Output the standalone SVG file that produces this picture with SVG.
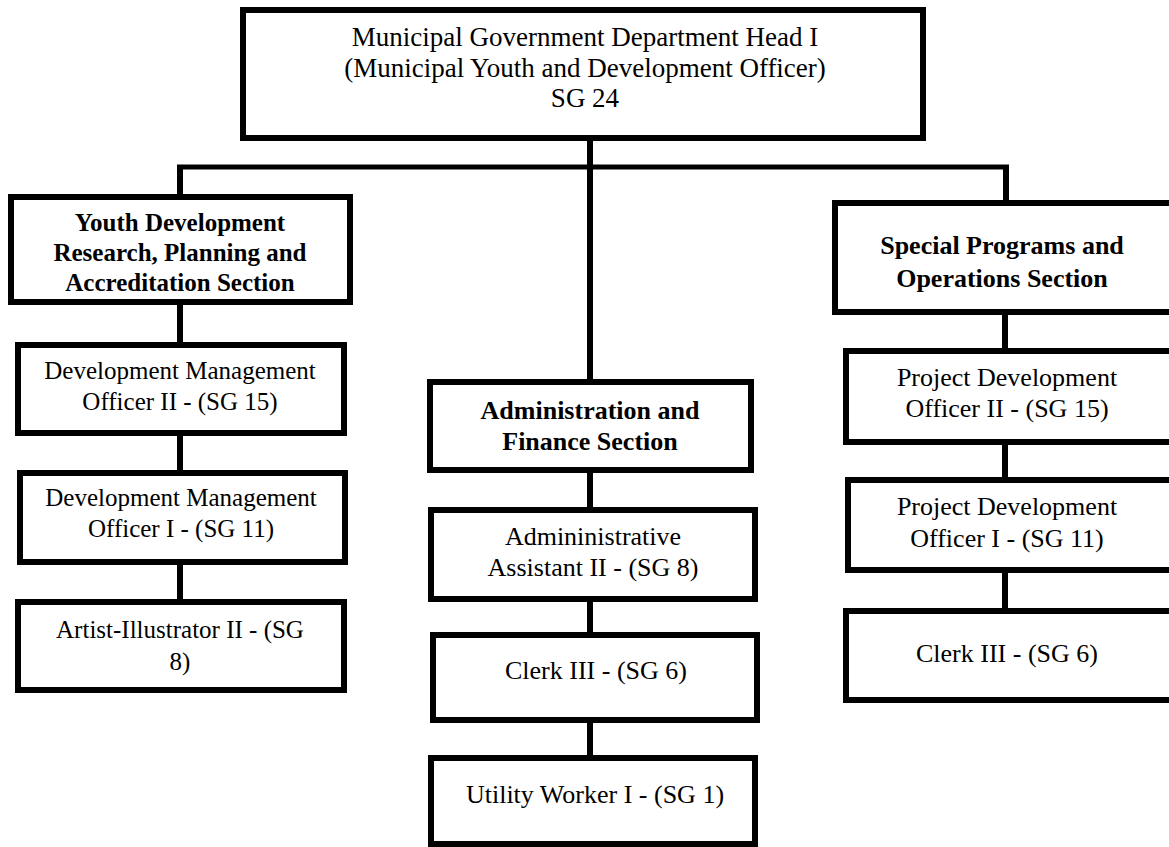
<svg xmlns="http://www.w3.org/2000/svg" width="1169" height="847" viewBox="0 0 1169 847">
<style>
.box{fill:#fff;stroke:#000;stroke-width:6}
.ln{stroke:#000;stroke-width:6;fill:none}
text{font-family:"Liberation Serif","Times New Roman",serif;fill:#000;text-anchor:middle}
.r{font-size:26px}
.rs{font-size:25px}
.b{font-size:26px;font-weight:bold}
.bs{font-size:25px;font-weight:bold}
.t{font-size:27px}
</style>
<rect width="1169" height="847" fill="#fff"/>
<g id="connectors">
<line class="ln" x1="590" y1="141" x2="590" y2="380"/>
<line class="ln" x1="177" y1="167" x2="1009" y2="167" style="stroke-width:5"/>
<line class="ln" x1="180" y1="167" x2="180" y2="195"/>
<line class="ln" x1="1006" y1="165" x2="1006" y2="201"/>
<line class="ln" x1="180" y1="304" x2="180" y2="343"/>
<line class="ln" x1="180" y1="435" x2="180" y2="471"/>
<line class="ln" x1="180" y1="564" x2="180" y2="600"/>
<line class="ln" x1="590" y1="472" x2="590" y2="508"/>
<line class="ln" x1="590" y1="601" x2="590" y2="633"/>
<line class="ln" x1="590" y1="722" x2="590" y2="756"/>
<line class="ln" x1="1005" y1="314" x2="1005" y2="349"/>
<line class="ln" x1="1005" y1="444" x2="1005" y2="478"/>
<line class="ln" x1="1005" y1="572" x2="1005" y2="609"/>
</g>
<g id="head">
<rect class="box" x="243" y="10" width="680" height="128"/>
<text class="t" x="585" y="46">Municipal Government Department Head I</text>
<text class="t" x="585" y="77">(Municipal Youth and Development Officer)</text>
<text class="t" x="585" y="107">SG 24</text>
</g>
<g id="youth-section">
<rect class="box" x="11" y="197" width="339" height="105"/>
<text class="bs" x="180" y="231">Youth Development</text>
<text class="bs" x="180" y="261">Research, Planning and</text>
<text class="bs" x="180" y="291">Accreditation Section</text>
</g>
<g id="dmo2">
<rect class="box" x="18" y="345" width="326" height="88"/>
<text class="rs" x="180" y="379">Development Management</text>
<text class="rs" x="180" y="410">Officer II - (SG 15)</text>
</g>
<g id="dmo1">
<rect class="box" x="20" y="473" width="325" height="89"/>
<text class="rs" x="181" y="506">Development Management</text>
<text class="rs" x="181" y="537">Officer I - (SG 11)</text>
</g>
<g id="artist">
<rect class="box" x="18" y="602" width="326" height="88"/>
<text class="rs" x="180" y="638">Artist-Illustrator II - (SG</text>
<text class="rs" x="180" y="670">8)</text>
</g>
<g id="admin-section">
<rect class="box" x="430" y="382" width="321" height="88"/>
<text class="b" x="590" y="419">Administration and</text>
<text class="b" x="590" y="450">Finance Section</text>
</g>
<g id="admin-assistant">
<rect class="box" x="431" y="510" width="324" height="89"/>
<text class="r" x="593" y="545">Admininistrative</text>
<text class="r" x="593" y="576">Assistant II - (SG 8)</text>
</g>
<g id="clerk-mid">
<rect class="box" x="433" y="635" width="324" height="85"/>
<text class="r" x="596" y="679">Clerk III - (SG 6)</text>
</g>
<g id="utility">
<rect class="box" x="431" y="758" width="324" height="86"/>
<text class="r" x="595" y="803">Utility Worker I - (SG 1)</text>
</g>
<g id="special-section">
<rect class="box" x="835" y="203" width="340" height="109"/>
<text class="b" x="1002" y="254">Special Programs and</text>
<text class="b" x="1002" y="287">Operations Section</text>
</g>
<g id="pdo2">
<rect class="box" x="846" y="351" width="330" height="91"/>
<text class="r" x="1007" y="386">Project Development</text>
<text class="r" x="1007" y="417">Officer II - (SG 15)</text>
</g>
<g id="pdo1">
<rect class="box" x="848" y="480" width="330" height="90"/>
<text class="r" x="1007" y="515">Project Development</text>
<text class="r" x="1007" y="547">Officer I - (SG 11)</text>
</g>
<g id="clerk-right">
<rect class="box" x="846" y="611" width="330" height="89"/>
<text class="r" x="1007" y="662">Clerk III - (SG 6)</text>
</g>
</svg>
